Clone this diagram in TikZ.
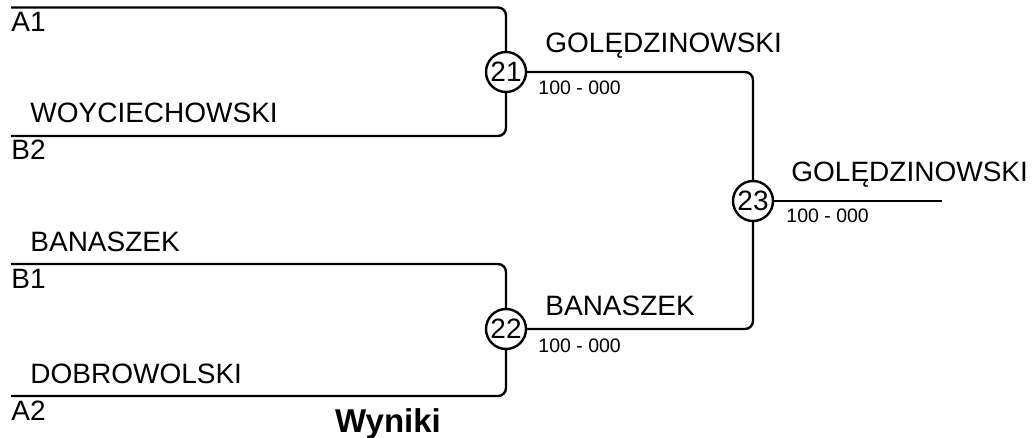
\documentclass[tikz,border=0pt]{standalone}
\usepackage{fontspec}
\setmainfont{Liberation Sans}
\tikzset{
  match/.style={draw,circle,line width=1.2pt,inner sep=0pt,minimum size=20pt,font=\fontsize{14}{16}\selectfont},
  player/.style={anchor=base west,inner sep=0pt,font=\fontsize{14}{16}\selectfont},
  score/.style={anchor=base west,inner sep=0pt,font=\fontsize{9.75}{11}\selectfont},
  wire/.style={line width=1.2pt,rounded corners=4pt},
}
\begin{document}
\begin{tikzpicture}[x=0.5pt,y=-0.5pt]
\useasboundingbox (0,0) rectangle (1032,438);
% matches
\node[match] (m21) at (506,72) {21};
\node[match] (m22) at (506,329) {22};
\node[match] (m23) at (753,201) {23};
\coordinate (a1) at (11,7.5);
\coordinate (b2) at (11,136);
\coordinate (b1) at (11,264);
\coordinate (a2) at (11,396);
\coordinate (win) at (942,201);
% brackets
\draw[wire] (a1) -| (m21.north);
\draw[wire] (b2) -| (m21.south);
\draw[wire] (b1) -| (m22.north);
\draw[wire] (a2) -| (m22.south);
\draw[wire] (m21.east) -| (m23.north);
\draw[wire] (m22.east) -| (m23.south);
\draw[wire] (m23.east) -- (win);
% seeds
\node[player] (sa1) at (11,32) {A1};
\node[player] (sb2) at (11,160) {B2};
\node[player] (sb1) at (11,288) {B1};
\node[player] (sa2) at (11,420) {A2};
% names
\node[player] (n1) at (30,123) {WOYCIECHOWSKI};
\node[player] (n2) at (30,251) {BANASZEK};
\node[player] (n3) at (30,383) {DOBROWOLSKI};
\node[player] (w21) at (545,53) {GOLĘDZINOWSKI};
\node[player] (w22) at (545,315) {BANASZEK};
\node[player] (w23) at (791,182) {GOLĘDZINOWSKI};
\node[score] (s21) at (538,95) {100 - 000};
\node[score] (s22) at (538,352) {100 - 000};
\node[score] (s23) at (786,222) {100 - 000};
\node[anchor=base,inner sep=0pt,font=\bfseries\fontsize{16.5}{19}\selectfont] (title) at (388,432) {Wyniki};
\end{tikzpicture}
\end{document}
